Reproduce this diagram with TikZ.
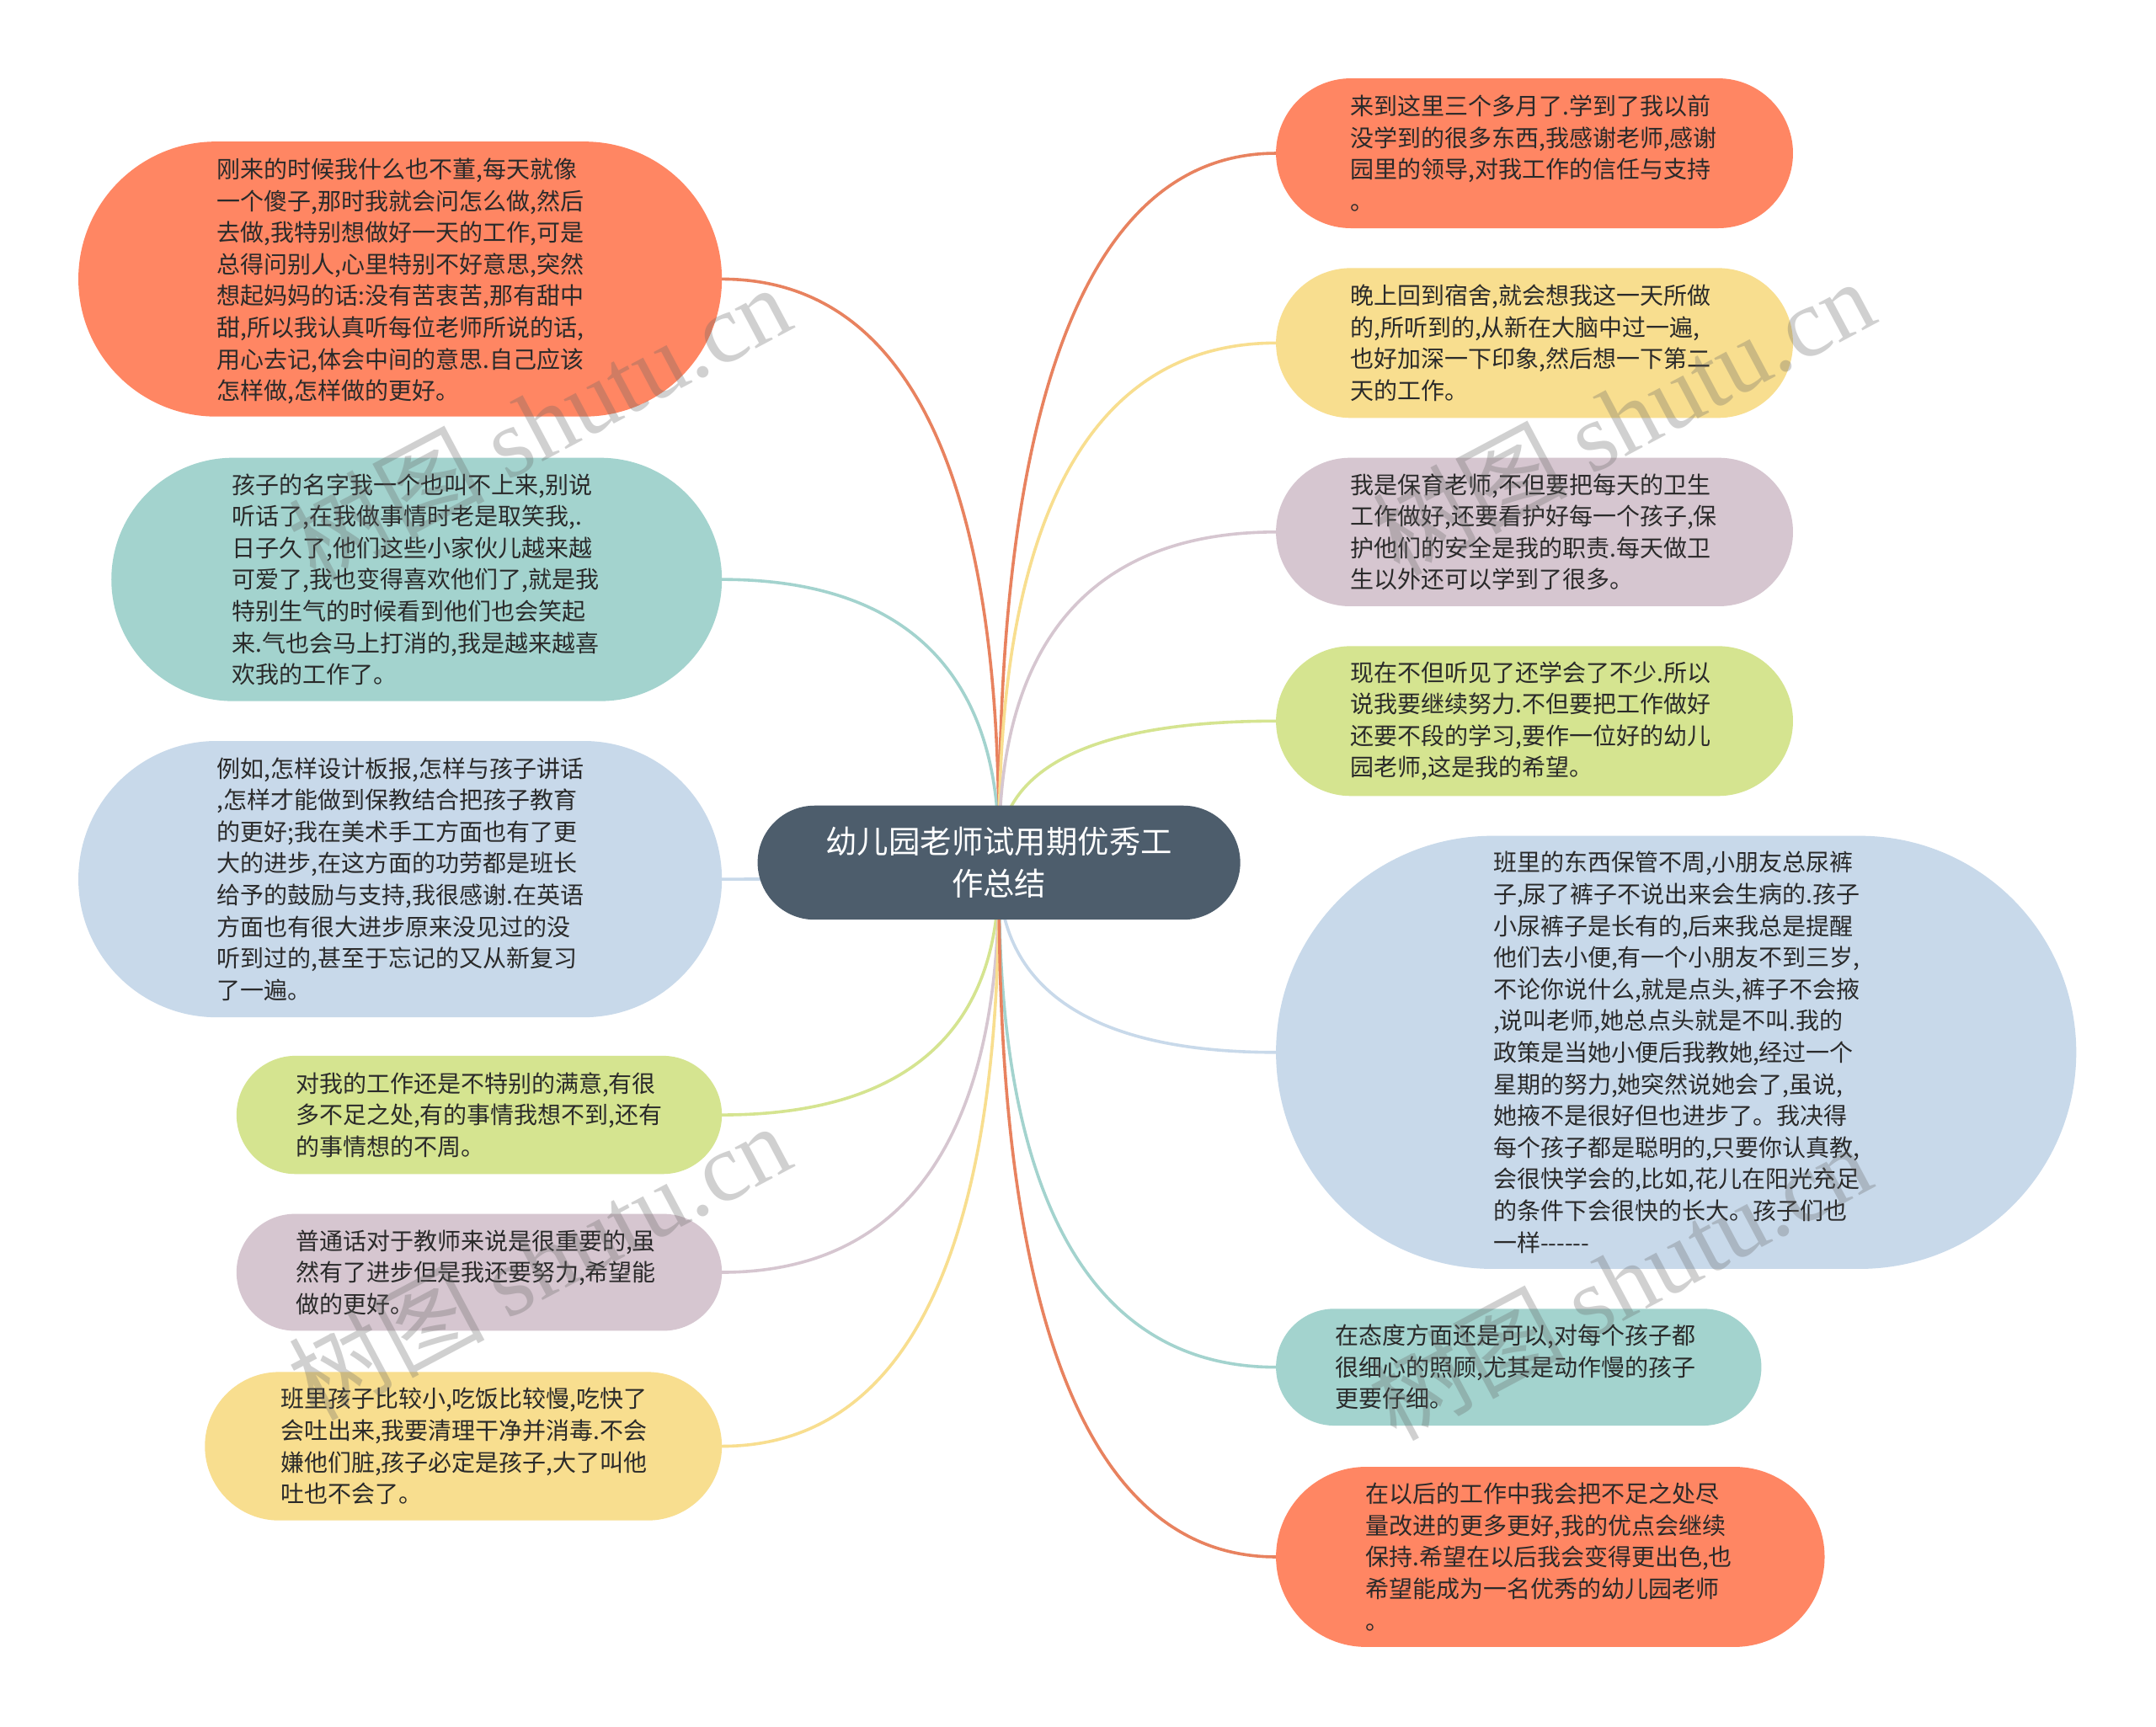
\documentclass[tikz,border=0pt]{standalone}
\usepackage{fontspec}
\setmainfont[Ligatures=NoCommon]{Noto Sans CJK SC}
\newfontfamily\wmlatin{Liberation Serif}
\usetikzlibrary{shapes.misc,calc,backgrounds}
\definecolor{cOrange}{HTML}{FF8663}
\definecolor{cTeal}{HTML}{A3D3CE}
\definecolor{cBlue}{HTML}{C8D9EA}
\definecolor{cGreen}{HTML}{D5E490}
\definecolor{cMauve}{HTML}{D6C6D0}
\definecolor{cYellow}{HTML}{F8DE8F}
\definecolor{cRoot}{HTML}{4D5D6C}
\definecolor{cLineOrange}{HTML}{E8825F}
\definecolor{cText}{HTML}{2A2A2A}
\tikzset{
  x=0.8163pt,y=-0.8163pt,
  pill/.style={rounded rectangle,inner sep=0pt,outer sep=0pt,draw=none},
  txt/.style={anchor=west,align=left,inner sep=0pt,outer sep=0pt,text=cText,font=\fontsize{14}{18.8}\selectfont},
  roottxt/.style={align=center,inner sep=0pt,text=white,font=\fontsize{18.7}{25}\selectfont},
  link/.style={line width=1.8pt},
  wm/.style={rotate=28,text=black!60,opacity=.3,inner sep=0pt,font=\fontsize{58}{60}\selectfont},
}
\newcommand\pillnode[6]{\node[pill,fill=#6,minimum width={(#2-#1)*0.8163pt},minimum height={(#4-#3)*0.8163pt}] (#5) at ({(#1+#2)/2},{(#3+#4)/2}) {};}
\newcommand\linkto[2]{\draw[link,#2] (ctr.center) .. controls ($(ctr.center |- #1)!0.75!(ctr.center)$) and (ctr.center |- #1) .. (#1);}
\begin{document}
\begin{tikzpicture}
\useasboundingbox (0,0) rectangle (1568,1256.2);
\pillnode{551}{902}{586}{669}{ctr}{cRoot}
\pillnode{57}{525}{103}{303}{l1}{cOrange}
\pillnode{81}{525}{333}{510}{l2}{cTeal}
\pillnode{57}{525}{539}{740}{l3}{cBlue}
\pillnode{172}{525}{768}{854}{l4}{cGreen}
\pillnode{172}{525}{883}{968}{l5}{cMauve}
\pillnode{149}{525}{998}{1106}{l6}{cYellow}
\pillnode{928}{1304}{57}{166}{r1}{cOrange}
\pillnode{928}{1304}{195}{304}{r2}{cYellow}
\pillnode{928}{1304}{333}{441}{r3}{cMauve}
\pillnode{928}{1304}{470}{579}{r4}{cGreen}
\pillnode{928}{1510}{608}{923}{r5}{cBlue}
\pillnode{928}{1281}{952}{1037}{r6}{cTeal}
\pillnode{928}{1327}{1067}{1198}{r7}{cOrange}
\begin{scope}[on background layer]
\fill[white] (0,0) rectangle (1568,1256.2);
\linkto{l1.east}{cLineOrange}
\linkto{l2.east}{cTeal}
\linkto{l3.east}{cBlue}
\linkto{l4.east}{cGreen}
\linkto{l5.east}{cMauve}
\linkto{l6.east}{cYellow}
\linkto{r1.west}{cLineOrange}
\linkto{r2.west}{cYellow}
\linkto{r3.west}{cMauve}
\linkto{r4.west}{cGreen}
\linkto{r5.west}{cBlue}
\linkto{r6.west}{cTeal}
\linkto{r7.west}{cLineOrange}
\end{scope}
\node[roottxt] (ctrtxt) at (ctr) {幼儿园老师试用期优秀工\\作总结};
\node[txt] (t1) at (158,204.5) {刚来的时候我什么也不董,每天就像\\一个傻子,那时我就会问怎么做,然后\\去做,我特别想做好一天的工作,可是\\总得问别人,心里特别不好意思,突然\\想起妈妈的话:没有苦衷苦,那有甜中\\甜,所以我认真听每位老师所说的话,\\用心去记,体会中间的意思.自己应该\\怎样做,怎样做的更好。};
\node[txt] (t2) at (169,421.5) {孩子的名字我一个也叫不上来,别说\\听话了,在我做事情时老是取笑我,.\\日子久了,他们这些小家伙儿越来越\\可爱了,我也变得喜欢他们了,就是我\\特别生气的时候看到他们也会笑起\\来.气也会马上打消的,我是越来越喜\\欢我的工作了。};
\node[txt] (t3) at (158,639.5) {例如,怎样设计板报,怎样与孩子讲话\\,怎样才能做到保教结合把孩子教育\\的更好;我在美术手工方面也有了更\\大的进步,在这方面的功劳都是班长\\给予的鼓励与支持,我很感谢.在英语\\方面也有很大进步原来没见过的没\\听到过的,甚至于忘记的又从新复习\\了一遍。};
\node[txt] (t4) at (215,811) {对我的工作还是不特别的满意,有很\\多不足之处,有的事情我想不到,还有\\的事情想的不周。};
\node[txt] (t5) at (215,925.5) {普通话对于教师来说是很重要的,虽\\然有了进步但是我还要努力,希望能\\做的更好。};
\node[txt] (t6) at (204,1052) {班里孩子比较小,吃饭比较慢,吃快了\\会吐出来,我要清理干净并消毒.不会\\嫌他们脏,孩子必定是孩子,大了叫他\\吐也不会了。};
\node[txt] (t7) at (982,111.5) {来到这里三个多月了.学到了我以前\\没学到的很多东西,我感谢老师,感谢\\园里的领导,对我工作的信任与支持\\。};
\node[txt] (t8) at (982,249.5) {晚上回到宿舍,就会想我这一天所做\\的,所听到的,从新在大脑中过一遍,\\也好加深一下印象,然后想一下第二\\天的工作。};
\node[txt] (t9) at (982,387) {我是保育老师,不但要把每天的卫生\\工作做好,还要看护好每一个孩子,保\\护他们的安全是我的职责.每天做卫\\生以外还可以学到了很多。};
\node[txt] (t10) at (982,524.5) {现在不但听见了还学会了不少.所以\\说我要继续努力.不但要把工作做好\\还要不段的学习,要作一位好的幼儿\\园老师,这是我的希望。};
\node[txt] (t11) at (1086,765.5) {班里的东西保管不周,小朋友总尿裤\\子,尿了裤子不说出来会生病的.孩子\\小尿裤子是长有的,后来我总是提醒\\他们去小便,有一个小朋友不到三岁,\\不论你说什么,就是点头,裤子不会掖\\,说叫老师,她总点头就是不叫.我的\\政策是当她小便后我教她,经过一个\\星期的努力,她突然说她会了,虽说,\\她掖不是很好但也进步了。我决得\\每个孩子都是聪明的,只要你认真教,\\会很快学会的,比如,花儿在阳光充足\\的条件下会很快的长大。孩子们也\\一样-{}-{}-{}-{}-{}-};
\node[txt] (t12) at (971,994.5) {在态度方面还是可以,对每个孩子都\\很细心的照顾,尤其是动作慢的孩子\\更要仔细。};
\node[txt] (t13) at (993,1132.5) {在以后的工作中我会把不足之处尽\\量改进的更多更好,我的优点会继续\\保持.希望在以后我会变得更出色,也\\希望能成为一名优秀的幼儿园老师\\。};
\node[wm] (w1) at (392,307) {树图 {\wmlatin shutu.cn}};
\node[wm] (w2) at (1180,303) {树图 {\wmlatin shutu.cn}};
\node[wm] (w3) at (392,917) {树图 {\wmlatin shutu.cn}};
\node[wm] (w4) at (1178,932) {树图 {\wmlatin shutu.cn}};
\end{tikzpicture}
\end{document}
